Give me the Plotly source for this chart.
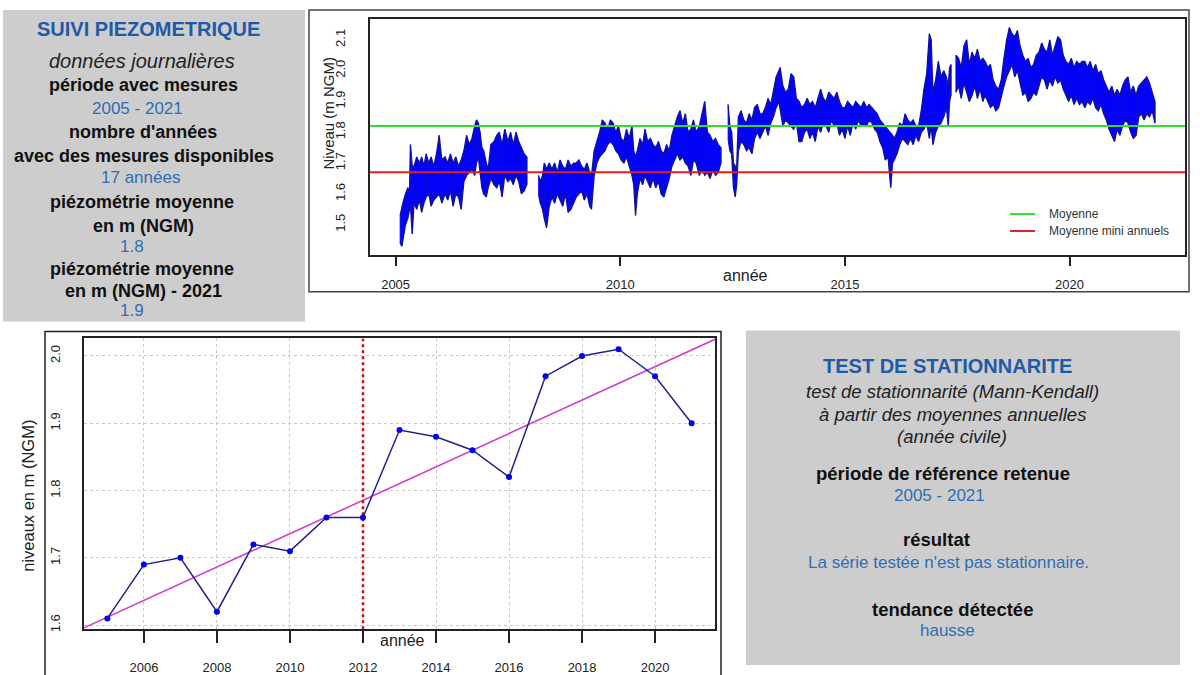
import plotly.graph_objects as go
import numpy as np

W, H = 1200, 675

# ---------------- DATA ----------------
# Daily piezometric record, read as (date, low, high) envelope of the daily values
t_env = [2005.10, 2005.14, 2005.18, 2005.22, 2005.27, 2005.31, 2005.33, 2005.37, 2005.41, 2005.47,
         2005.53, 2005.58, 2005.63, 2005.68, 2005.74, 2005.79, 2005.85, 2005.91, 2005.97, 2006.03,
         2006.10, 2006.16, 2006.22, 2006.28, 2006.34, 2006.40, 2006.46, 2006.52, 2006.58, 2006.64,
         2006.70, 2006.76, 2006.80, 2006.84, 2006.88, 2006.92, 2006.96, 2007.02, 2007.06, 2007.12,
         2007.19, 2007.25, 2007.31, 2007.37, 2007.43, 2007.50, 2007.56, 2007.62, 2007.68, 2007.74,
         2007.80, 2007.86, 2007.92, None,
         2008.18, 2008.22, 2008.27, 2008.31, 2008.36, 2008.42, 2008.48, 2008.54, 2008.60, 2008.66,
         2008.72, 2008.78, 2008.84, 2008.90, 2008.96, 2009.02, 2009.08, 2009.14, 2009.20, 2009.26,
         2009.32, 2009.36, 2009.42, 2009.48, 2009.54, 2009.60, 2009.66, 2009.72, 2009.78, 2009.84,
         2009.90, 2009.96, 2010.02, 2010.08, 2010.14, 2010.20, 2010.26, 2010.30, 2010.34, 2010.38,
         2010.44, 2010.50, 2010.55, 2010.61, 2010.67, 2010.73, 2010.79, 2010.85, 2010.91, 2010.97,
         2011.03, 2011.09, 2011.15, 2011.21, 2011.27, 2011.33, 2011.39, 2011.45, 2011.51, 2011.57,
         2011.63, 2011.69, 2011.76, 2011.82, 2011.88, 2011.94, 2012.00, 2012.06, 2012.12, 2012.18,
         2012.24, None,
         2012.40, 2012.44, 2012.48, 2012.52, 2012.56, 2012.59, 2012.63, 2012.69, 2012.75, 2012.81,
         2012.87, 2012.93, 2012.99, 2013.05, 2013.11, 2013.17, 2013.23, 2013.29, 2013.35, 2013.41,
         2013.47, 2013.53, 2013.56, 2013.62, 2013.68, 2013.74, 2013.80, 2013.86, 2013.92, 2013.98,
         2014.04, 2014.10, 2014.16, 2014.22, 2014.28, 2014.34, 2014.40, 2014.46, 2014.52, 2014.58,
         2014.64, 2014.70, 2014.76, 2014.82, 2014.88, 2014.94, 2015.00, 2015.06, 2015.12, 2015.18,
         2015.24, 2015.30, 2015.36, 2015.42, 2015.48, 2015.54, 2015.60, 2015.66, 2015.72, 2015.78,
         2015.84, 2015.90, 2015.96, 2016.02, 2016.06, 2016.10, 2016.16, 2016.22, 2016.28, 2016.34,
         2016.40, 2016.46, 2016.52, 2016.58, 2016.64, 2016.70, 2016.76, 2016.82, 2016.88, 2016.92,
         2016.96, 2017.02, 2017.08, 2017.14, 2017.20, 2017.26, 2017.30, 2017.33, 2017.36, None,
         2017.47, 2017.53, 2017.59, 2017.65, 2017.71, 2017.77, 2017.83, 2017.89, 2017.95, 2018.01,
         2018.07, 2018.12, 2018.18, 2018.24, 2018.30, 2018.36, 2018.42, 2018.48, 2018.54, 2018.60,
         2018.66, 2018.72, 2018.78, 2018.84, 2018.90, 2018.96, 2019.02, 2019.08, 2019.14, 2019.20,
         2019.26, 2019.32, 2019.38, 2019.44, 2019.50, 2019.56, 2019.62, 2019.68, 2019.74, 2019.80,
         2019.86, 2019.92, 2019.98, 2020.04, 2020.10, 2020.16, 2020.22, 2020.28, 2020.34, 2020.40,
         2020.46, 2020.52, 2020.58, 2020.64, 2020.70, 2020.76, 2020.82, 2020.88, 2020.94, 2021.00,
         2021.06, 2021.12, 2021.18, 2021.24, 2021.30, 2021.36, 2021.42, 2021.48, 2021.54, 2021.60,
         2021.66, 2021.72, 2021.78, 2021.84, 2021.90]
lo_env = [1.44, 1.43, 1.47, 1.50, 1.52, 1.55, 1.56, 1.47, 1.57, 1.55,
          1.58, 1.54, 1.57, 1.59, 1.60, 1.56, 1.58, 1.59, 1.60, 1.57,
          1.60, 1.58, 1.61, 1.56, 1.60, 1.59, 1.55, 1.64, 1.66, 1.67,
          1.68, 1.66, 1.70, 1.72, 1.68, 1.62, 1.60, 1.59, 1.62, 1.65,
          1.63, 1.62, 1.64, 1.59, 1.66, 1.64, 1.65, 1.63, 1.66, 1.64,
          1.60, 1.61, 1.63, None,
          1.60, 1.57, 1.55, 1.52, 1.49, 1.56, 1.59, 1.57, 1.60, 1.58,
          1.56, 1.60, 1.54, 1.55, 1.57, 1.59, 1.60, 1.61, 1.58, 1.60,
          1.56, 1.55, 1.66, 1.70, 1.72, 1.73, 1.74, 1.76, 1.77, 1.76,
          1.74, 1.73, 1.71, 1.70, 1.72, 1.69, 1.66, 1.63, 1.53, 1.60,
          1.65, 1.63, 1.66, 1.64, 1.62, 1.65, 1.62, 1.64, 1.60, 1.59,
          1.62, 1.65, 1.69, 1.71, 1.73, 1.71, 1.72, 1.70, 1.69, 1.66,
          1.71, 1.70, 1.66, 1.68, 1.66, 1.67, 1.65, 1.68, 1.66, 1.67,
          1.70, None,
          1.78, 1.74, 1.73, 1.62, 1.59, 1.63, 1.74, 1.77, 1.76, 1.74,
          1.75, 1.73, 1.78, 1.80, 1.78, 1.80, 1.82, 1.79, 1.83, 1.85,
          1.88, 1.90, 1.88, 1.82, 1.84, 1.83, 1.82, 1.81, 1.83, 1.77,
          1.77, 1.80, 1.81, 1.78, 1.80, 1.77, 1.82, 1.80, 1.83, 1.82,
          1.80, 1.84, 1.82, 1.83, 1.79, 1.81, 1.78, 1.82, 1.79, 1.83,
          1.81, 1.84, 1.82, 1.83, 1.82, 1.84, 1.83, 1.81, 1.80, 1.77,
          1.75, 1.71, 1.72, 1.62, 1.70, 1.71, 1.73, 1.76, 1.78, 1.77,
          1.76, 1.78, 1.76, 1.79, 1.77, 1.80, 1.81, 1.83, 1.78, 1.82,
          1.76, 1.80, 1.82, 1.83, 1.85, 1.88, 1.82, 1.90, 1.92, None,
          1.93, 1.95, 1.91, 1.96, 1.93, 1.90, 1.92, 1.95, 1.91, 1.94,
          1.90, 1.92, 1.90, 1.88, 1.89, 1.87, 1.88, 1.91, 1.95, 1.98,
          2.00, 2.02, 1.98, 2.00, 1.96, 1.92, 1.93, 1.90, 1.91, 1.93,
          1.92, 1.95, 1.98, 1.97, 1.94, 1.97, 1.95, 1.98, 1.96, 1.97,
          1.94, 1.92, 1.90, 1.92, 1.89, 1.91, 1.89, 1.90, 1.88, 1.90,
          1.89, 1.91, 1.88, 1.87, 1.89, 1.86, 1.84, 1.81, 1.79, 1.77,
          1.81, 1.79, 1.82, 1.84, 1.83, 1.80, 1.78, 1.79, 1.85, 1.86,
          1.84, 1.86, 1.85, 1.87, 1.83]
hi_env = [1.53, 1.56, 1.58, 1.60, 1.62, 1.61, 1.76, 1.69, 1.69, 1.72,
          1.70, 1.72, 1.69, 1.73, 1.70, 1.72, 1.69, 1.73, 1.79, 1.71,
          1.72, 1.70, 1.73, 1.70, 1.72, 1.69, 1.71, 1.74, 1.79, 1.76,
          1.78, 1.82, 1.84, 1.83, 1.80, 1.75, 1.74, 1.70, 1.68, 1.76,
          1.77, 1.79, 1.80, 1.76, 1.81, 1.77, 1.80, 1.76, 1.80, 1.77,
          1.75, 1.73, 1.72, None,
          1.66, 1.64, 1.66, 1.70, 1.68, 1.70, 1.68, 1.70, 1.67, 1.71,
          1.69, 1.68, 1.71, 1.69, 1.70, 1.70, 1.71, 1.69, 1.68, 1.70,
          1.67, 1.66, 1.74, 1.77, 1.80, 1.84, 1.83, 1.81, 1.84, 1.83,
          1.80, 1.82, 1.78, 1.77, 1.81, 1.78, 1.82, 1.74, 1.72, 1.74,
          1.78, 1.76, 1.81, 1.77, 1.78, 1.76, 1.75, 1.77, 1.74, 1.73,
          1.76, 1.74, 1.79, 1.82, 1.85, 1.87, 1.83, 1.86, 1.80, 1.81,
          1.84, 1.80, 1.82, 1.86, 1.90, 1.80, 1.79, 1.77, 1.78, 1.76,
          1.75, None,
          1.89, 1.82, 1.80, 1.70, 1.69, 1.68, 1.85, 1.87, 1.84, 1.83,
          1.86, 1.84, 1.88, 1.89, 1.86, 1.86, 1.88, 1.91, 1.89, 1.94,
          1.98, 2.00, 2.01, 1.95, 1.93, 1.94, 1.99, 1.98, 1.91, 1.90,
          1.88, 1.89, 1.91, 1.89, 1.90, 1.88, 1.91, 1.94, 1.91, 1.90,
          1.93, 1.92, 1.91, 1.93, 1.90, 1.88, 1.88, 1.90, 1.89, 1.88,
          1.90, 1.89, 1.88, 1.90, 1.88, 1.89, 1.88, 1.87, 1.86, 1.84,
          1.83, 1.82, 1.81, 1.80, 1.79, 1.78, 1.80, 1.83, 1.82, 1.86,
          1.84, 1.83, 1.84, 1.82, 1.82, 1.87, 1.94, 1.99, 2.12, 2.10,
          1.93, 1.97, 2.03, 1.98, 2.00, 1.98, 1.95, 2.01, 2.02, None,
          2.05, 2.04, 2.01, 2.08, 2.10, 2.02, 2.06, 2.04, 2.07, 2.03,
          2.04, 2.03, 2.01, 2.02, 1.97, 1.95, 1.94, 1.97, 2.04, 2.10,
          2.14, 2.12, 2.11, 2.13, 2.08, 2.05, 2.03, 2.04, 2.01, 2.02,
          2.05, 2.06, 2.09, 2.07, 2.06, 2.10, 2.05, 2.08, 2.11, 2.10,
          2.05, 2.03, 2.02, 2.04, 2.01, 2.03, 2.02, 2.03, 2.03, 2.01,
          2.03, 2.00, 2.02, 1.99, 2.00, 1.97, 1.95, 1.93, 1.95, 1.92,
          1.94, 1.92, 1.95, 1.97, 1.98, 1.93, 1.95, 1.92, 1.95, 1.96,
          1.97, 1.98, 1.96, 1.93, 1.90]

MOYENNE = 1.82
MOYENNE_MINI_ANNUELS = 1.67

annees = [2005, 2006, 2007, 2008, 2009, 2010, 2011, 2012, 2013, 2014, 2015, 2016, 2017, 2018, 2019, 2020, 2021]
moyennes_annuelles = [1.61, 1.69, 1.70, 1.62, 1.72, 1.71, 1.76, 1.76, 1.89, 1.88, 1.86, 1.82, 1.97, 2.00, 2.01, 1.97, 1.90]
annee_rupture = 2012

top_xticks = [2005, 2010, 2015, 2020]
top_yticks = [1.5, 1.6, 1.7, 1.8, 1.9, 2.0, 2.1]
bot_xticks = [2006, 2008, 2010, 2012, 2014, 2016, 2018, 2020]
bot_yticks = [1.6, 1.7, 1.8, 1.9, 2.0]

# ---------------- STYLE ----------------
FONT = "Liberation Sans, Arial, sans-serif"
GRAY = "#CDCDCD"
BLUE_T = "#1E5AA8"
BLUE_V = "#2F6DB5"
BLACK = "#111111"


def px(x):
    return x / W


def py(y):
    return 1 - y / H


fig = go.Figure()

# ---- top chart : daily series ----
segs = []
cur = []
for t, lo, hi in zip(t_env, lo_env, hi_env):
    if t is None:
        if cur:
            segs.append(cur)
        cur = []
    else:
        cur.append((t, lo, hi))
if cur:
    segs.append(cur)

for seg in segs:
    ts = [s[0] for s in seg]
    los = [s[1] for s in seg]
    his = [s[2] for s in seg]
    fig.add_trace(go.Scatter(x=ts + ts[::-1], y=his + los[::-1], fill="toself",
                             fillcolor="#0000FF", mode="lines",
                             line=dict(color="#14148C", width=1.3),
                             xaxis="x", yaxis="y", showlegend=False, hoverinfo="skip"))
    zx, zy = [], []
    for i, (t, lo, hi) in enumerate(seg):
        zx += [t, t, None]
        zy += [lo, hi, None]
    fig.add_trace(go.Scatter(x=zx, y=zy, mode="lines", line=dict(color="#0A0AE0", width=0.8),
                             xaxis="x", yaxis="y", showlegend=False, hoverinfo="skip"))

# ---- bottom chart ----
xa = np.array(annees, dtype=float)
ya = np.array(moyennes_annuelles)
slopes = [(ya[j] - ya[i]) / (xa[j] - xa[i]) for i in range(len(xa)) for j in range(i + 1, len(xa))]
sen = float(np.median(slopes))
icpt = float(np.median(ya - sen * xa))

BX0, BX1 = 2004.36, 2021.64
BY0, BY1 = 1.594, 2.026
fig.add_trace(go.Scatter(x=[BX0, BX1], y=[icpt + sen * BX0, icpt + sen * BX1], mode="lines",
                         line=dict(color="#D040D0", width=1.6), xaxis="x2", yaxis="y2",
                         showlegend=False, cliponaxis=True))
fig.add_trace(go.Scatter(x=[annee_rupture, annee_rupture], y=[BY0, BY1], mode="lines",
                         line=dict(color="#CC1111", width=2.5, dash="dot"), xaxis="x2", yaxis="y2",
                         showlegend=False))
fig.add_trace(go.Scatter(x=annees, y=moyennes_annuelles, mode="lines+markers",
                         line=dict(color="#22228A", width=1.5),
                         marker=dict(color="#0000EE", size=6), xaxis="x2", yaxis="y2",
                         showlegend=False))

shapes = []
# gray panels
shapes.append(dict(type="rect", xref="paper", yref="paper", x0=px(3), x1=px(305), y0=py(323), y1=py(10),
                   fillcolor=GRAY, line=dict(width=0), layer="below"))
shapes.append(dict(type="rect", xref="paper", yref="paper", x0=px(746), x1=px(1180), y0=py(668), y1=py(332),
                   fillcolor=GRAY, line=dict(width=0), layer="below"))
# outer frames
shapes.append(dict(type="rect", xref="paper", yref="paper", x0=px(309), x1=px(1189), y0=py(293), y1=py(10),
                   line=dict(color="#444444", width=1.5)))
shapes.append(dict(type="rect", xref="paper", yref="paper", x0=px(45), x1=px(721), y0=py(690), y1=py(333),
                   line=dict(color="#222222", width=1.5)))
# mean lines (abline)
shapes.append(dict(type="line", xref="x domain", yref="y", x0=0, x1=1, y0=MOYENNE, y1=MOYENNE,
                   line=dict(color="#30DD30", width=2)))
shapes.append(dict(type="line", xref="x domain", yref="y", x0=0, x1=1, y0=MOYENNE_MINI_ANNUELS,
                   y1=MOYENNE_MINI_ANNUELS, line=dict(color="#DD2020", width=2)))
# legend samples
shapes.append(dict(type="line", xref="paper", yref="paper", x0=px(1010), x1=px(1035), y0=py(215), y1=py(215),
                   line=dict(color="#30DD30", width=2)))
shapes.append(dict(type="line", xref="paper", yref="paper", x0=px(1010), x1=px(1035), y0=py(232), y1=py(232),
                   line=dict(color="#DD2020", width=2)))

ann = []


def text(x, y, s, size, color=BLACK, bold=False, italic=False, anchor="center", angle=0):
    if bold:
        s = "<b>" + s + "</b>"
    if italic:
        s = "<i>" + s + "</i>"
    ann.append(dict(x=px(x), y=py(y), xref="paper", yref="paper", text=s, showarrow=False,
                    xanchor=anchor, yanchor="middle", textangle=angle,
                    font=dict(family=FONT, size=size, color=color)))


# left panel
text(148, 29, "SUIVI PIEZOMETRIQUE", 20, BLUE_T, bold=True)
text(142, 61, "données journalières", 20, "#222222", italic=True)
text(143, 85, "période avec mesures", 18, bold=True)
text(137, 109, "2005 - 2021", 17, BLUE_V)
text(143, 133, "nombre d'années", 18, bold=True)
text(144, 157, "avec des mesures disponibles", 18, bold=True)
text(140, 178, "17 années", 17, BLUE_V)
text(142, 203, "piézométrie moyenne", 18, bold=True)
text(143, 227, "en m (NGM)", 18, bold=True)
text(132, 248, "1.8", 17, BLUE_V)
text(142, 270, "piézométrie moyenne", 18, bold=True)
text(143, 292, "en m (NGM) - 2021", 18, bold=True)
text(132, 312, "1.9", 17, BLUE_V)

# right panel
text(947, 368, "TEST DE STATIONNARITE", 20, BLUE_T, bold=True)
text(952, 393, "test de stationnarité (Mann-Kendall)", 18.5, "#222222", italic=True)
text(952, 416, "à partir des moyennes annuelles", 18.5, "#222222", italic=True)
text(952, 438, "(année civile)", 18.5, "#222222", italic=True)
text(943, 476, "période de référence retenue", 18.5, bold=True)
text(939, 498, "2005 - 2021", 17, BLUE_V)
text(936, 542, "résultat", 18.5, bold=True)
text(948, 565, "La série testée n'est pas stationnaire.", 17, BLUE_V)
text(952, 612, "tendance détectée", 18.5, bold=True)
text(947, 633, "hausse", 17, BLUE_V)

# axis titles
text(328, 114, "Niveau (m NGM)", 15, "#222222", angle=-90)
text(745, 277, "année", 16, "#222222")
text(28, 498, "niveaux en m (NGM)", 16.5, "#222222", angle=-90)
text(402, 643, "année", 16, "#222222")

# legend text
text(1047, 215, "Moyenne", 12, "#333333", anchor="left")
text(1047, 232, "Moyenne mini annuels", 12, "#333333", anchor="left")

axfont = dict(family=FONT, size=13, color="#222222")
axfont2 = dict(family=FONT, size=13, color="#222222")

fig.update_layout(
    width=W, height=H, margin=dict(l=0, r=0, t=0, b=0),
    paper_bgcolor="white", plot_bgcolor="white", showlegend=False,
    shapes=shapes, annotations=ann,
    xaxis=dict(domain=[px(370), px(1185)], range=[2004.43, 2022.57], tickvals=top_xticks,
               ticktext=[str(v) for v in top_xticks], ticks="outside", ticklen=9, tickwidth=1.5,
               tickcolor="#222222", showline=True, mirror=True, linecolor="#222222", linewidth=1.5,
               showgrid=False, zeroline=False, tickfont=axfont, ticklabelstandoff=8, anchor="y"),
    yaxis=dict(domain=[py(256), py(19)], range=[1.402, 2.168], tickvals=top_yticks,
               ticktext=[f"{v:.1f}" for v in top_yticks], ticks="", tickangle=-90,
               showline=True, mirror=True, linecolor="#222222", linewidth=1.5,
               showgrid=False, zeroline=False, tickfont=axfont, ticklabelstandoff=18, anchor="x"),
    xaxis2=dict(domain=[px(84), px(715)], range=[BX0, BX1], tickvals=bot_xticks,
                ticktext=[str(v) for v in bot_xticks], ticks="outside", ticklen=12, tickwidth=1.5,
                tickcolor="#222222", showline=True, mirror=True, linecolor="#222222", linewidth=1.5,
                showgrid=True, gridcolor="#CACACA", griddash="dot", gridwidth=1,
                zeroline=False, tickfont=axfont2, ticklabelstandoff=13, anchor="y2"),
    yaxis2=dict(domain=[py(632), py(340)], range=[BY0, BY1], tickvals=bot_yticks,
                ticktext=[f"{v:.1f}" for v in bot_yticks], ticks="", tickangle=-90,
                showline=True, mirror=True, linecolor="#222222", linewidth=1.5,
                showgrid=True, gridcolor="#CACACA", griddash="dot", gridwidth=1,
                zeroline=False, tickfont=axfont2, ticklabelstandoff=17, anchor="x2"),
)

fig.write_html("out.html", config={"displayModeBar": False},
               post_script="document.body.style.margin='0';document.body.style.overflow='hidden';")
